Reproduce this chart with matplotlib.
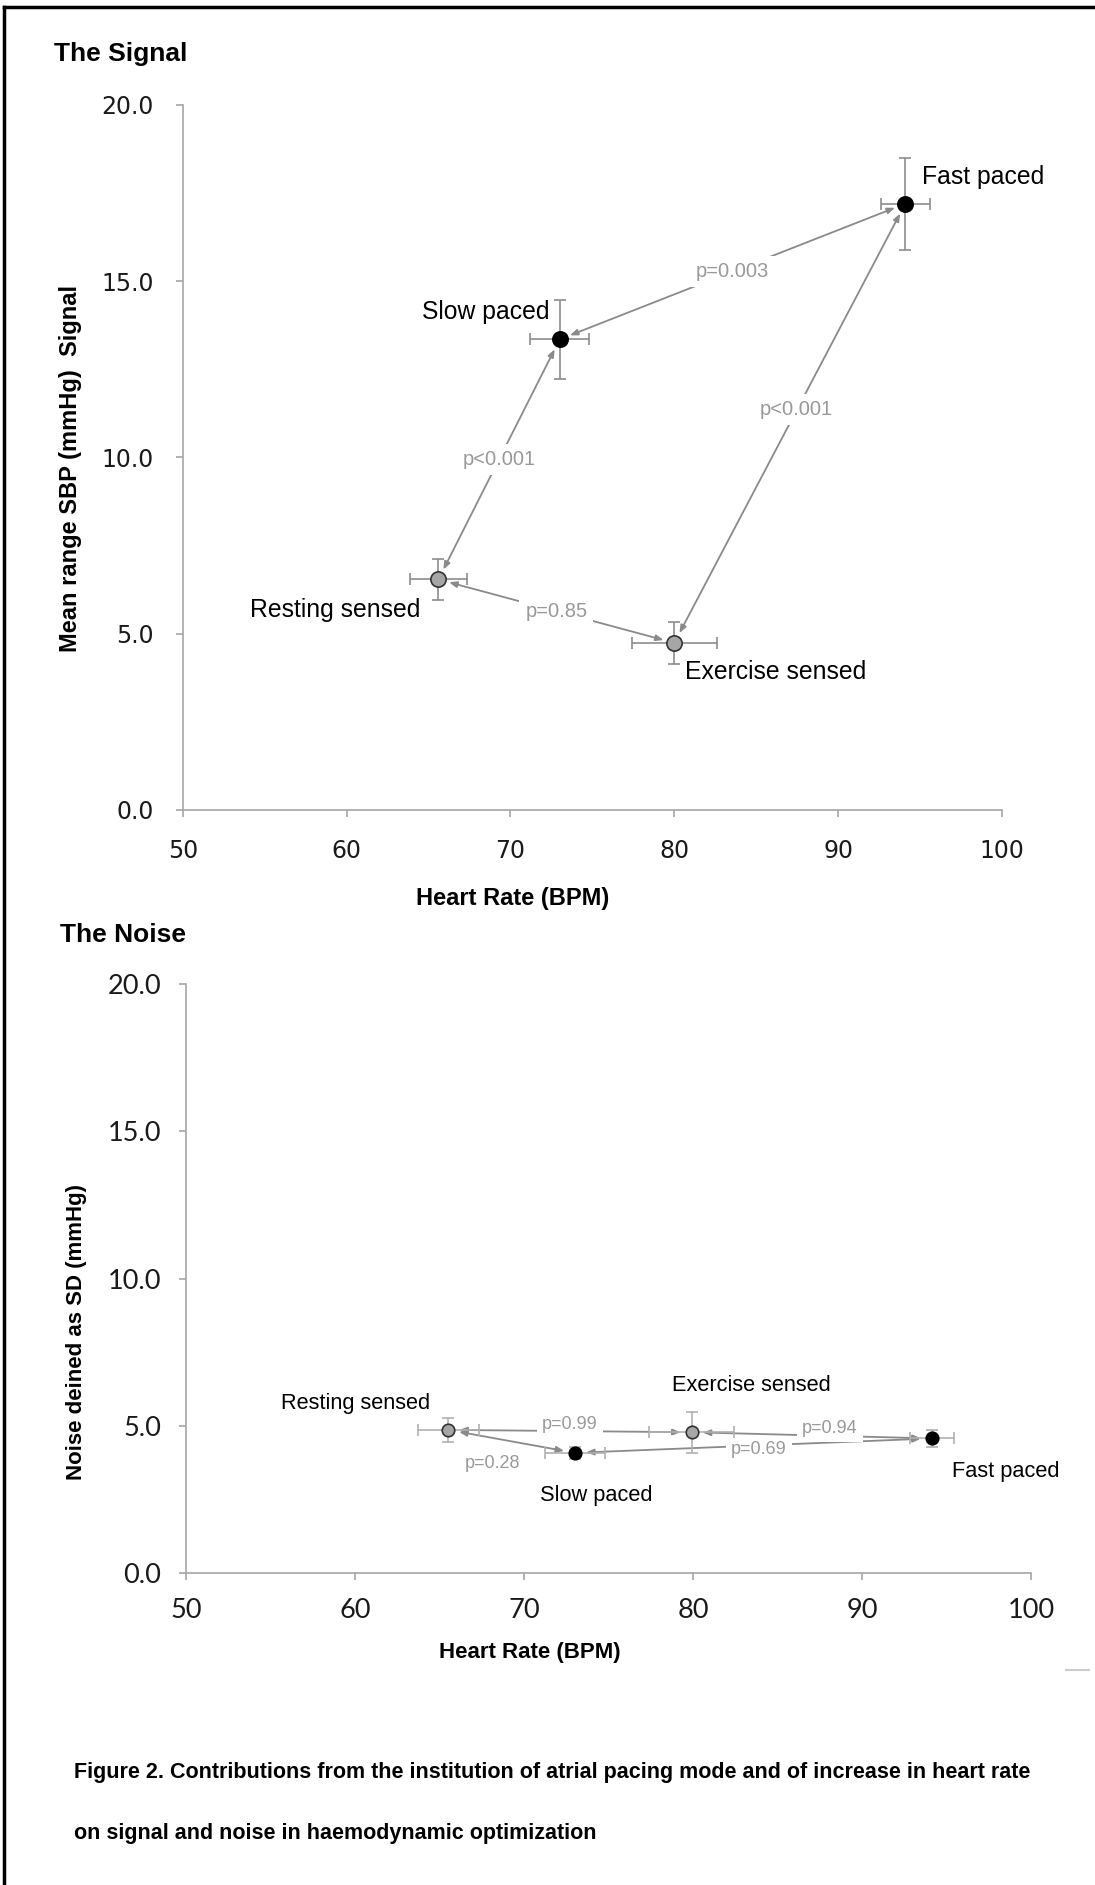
import numpy as np
import matplotlib.pyplot as plt
from matplotlib.lines import Line2D

# conditions, in the same order for both panels
conditions = ["Resting sensed", "Exercise sensed", "Slow paced", "Fast paced"]
paced = [False, False, True, True]

# The Signal: mean range SBP vs heart rate
hr_signal = [65.6, 80.0, 73.0, 94.1]
hr_signal_err = [1.75, 2.6, 1.8, 1.5]
sbp_signal = [6.54, 4.74, 13.35, 17.2]
sbp_signal_err = [0.58, 0.6, 1.12, 1.3]
signal_pairs = [(2, 3), (0, 2), (1, 3), (0, 1)]
signal_pvals = ["p=0.003", "p<0.001", "p<0.001", "p=0.85"]

# The Noise: SD vs heart rate
hr_noise = [65.5, 79.9, 73.0, 94.1]
hr_noise_err = [1.8, 2.5, 1.8, 1.3]
sd_noise = [4.86, 4.78, 4.08, 4.57]
sd_noise_err = [0.4, 0.7, 0.2, 0.3]
noise_pairs = [(0, 1), (0, 2), (1, 3), (2, 3)]
noise_pvals = ["p=0.99", "p=0.28", "p=0.94", "p=0.69"]

x_ticks = [50, 60, 70, 80, 90, 100]
y_ticks = [0, 5, 10, 15, 20]

NARROW = ["Liberation Sans Narrow", "Liberation Sans", "DejaVu Sans"]
ARROW_GREY = "#8a8a8a"
ERR_GREY = "#8c8c8c"
SPINE_GREY = "#a6a6a6"

fig = plt.figure(figsize=(10.95, 18.85), dpi=100)
ax1 = fig.add_axes([0.167, 0.5703, 0.748, 0.374])
ax2 = fig.add_axes([0.170, 0.1655, 0.772, 0.3125])


def style_axes(ax, tick_font, tick_size, pad):
    ax.set_xlim(50, 100)
    ax.set_ylim(0, 20)
    ax.set_xticks(x_ticks)
    ax.set_yticks(y_ticks)
    ax.set_yticklabels([f"{v:.1f}" for v in y_ticks])
    for s in ["top", "right"]:
        ax.spines[s].set_visible(False)
    for s in ["left", "bottom"]:
        ax.spines[s].set_color(SPINE_GREY)
        ax.spines[s].set_linewidth(1.2)
    ax.tick_params(direction="out", length=5, width=1.2, color=SPINE_GREY,
                   labelsize=tick_size, pad=pad, labelcolor="#1a1a1a")
    for lab in ax.get_xticklabels() + ax.get_yticklabels():
        lab.set_family(tick_font)


def draw_points(ax, xs, xerr, ys, yerr, ms, ecol):
    for i in range(len(conditions)):
        face = "black" if paced[i] else "#a6a6a6"
        ax.errorbar(xs[i], ys[i], xerr=xerr[i], yerr=yerr[i], fmt="o",
                    ms=ms, mfc=face, mec="#333333" if not paced[i] else "black",
                    mew=1.2, ecolor=ecol, elinewidth=1.2, capsize=4,
                    capthick=1.2, zorder=3)


def draw_links(ax, xs, ys, pairs, pvals, fsize, offsets):
    for (a, b), p, off in zip(pairs, pvals, offsets):
        ax.annotate("", xy=(xs[a], ys[a]), xytext=(xs[b], ys[b]),
                    arrowprops=dict(arrowstyle="<|-|>,head_length=0.45,head_width=0.18",
                                    color=ARROW_GREY, lw=1.3,
                                    shrinkA=8, shrinkB=8), zorder=2)
        mx = (xs[a] + xs[b]) / 2
        my = (ys[a] + ys[b]) / 2
        ax.annotate(p, xy=(mx, my), xytext=off, textcoords="offset points",
                    ha="center", va="center", fontsize=fsize, color="#999999",
                    family=["Liberation Sans", "DejaVu Sans"],
                    bbox=dict(boxstyle="square,pad=0.3", fc="white", ec="none"),
                    zorder=2.5)


def draw_names(ax, xs, ys, placements, fsize, weight):
    for i, name in enumerate(conditions):
        dx, dy, ha = placements[i]
        ax.annotate(name, xy=(xs[i], ys[i]), xytext=(dx, dy),
                    textcoords="offset points", ha=ha, va="center",
                    fontsize=fsize, family=NARROW, color="black",
                    fontweight=weight, zorder=4)


# --- The Signal ---
style_axes(ax1, "DejaVu Sans", 17, 16)
draw_links(ax1, hr_signal, sbp_signal, signal_pairs, signal_pvals, 14.5,
           [(0, 0), (0, 0), (5, 10), (0, 0)])
draw_points(ax1, hr_signal, hr_signal_err, sbp_signal, sbp_signal_err, 11, ERR_GREY)
draw_names(ax1, hr_signal, sbp_signal,
           [(-13, -22, "right"), (8, -21, "left"),
            (-7, 20, "right"), (12, 19, "left")], 17.8, "normal")
ax1.set_xlabel("Heart Rate (BPM)", fontsize=17, fontweight="bold", family=NARROW)
ax1.set_ylabel("Mean range SBP (mmHg)  Signal", fontsize=17,
               fontweight="bold", family=NARROW)
ax1.xaxis.set_label_coords(0.403, -0.109)
ax1.yaxis.set_label_coords(-0.123, 0.484)

# --- The Noise ---
style_axes(ax2, ["Lato", "DejaVu Sans"], 19.5, 13)
draw_links(ax2, hr_noise, sd_noise, noise_pairs, noise_pvals, 13,
           [(0, 5), (-14, -16), (13, 5), (4, -3)])
draw_points(ax2, hr_noise, hr_noise_err, sd_noise, sd_noise_err, 9, "#b0b0b0")
draw_names(ax2, hr_noise, sd_noise,
           [(-13, 19, "right"), (43, 34, "center"),
            (15, -31, "center"), (53, -24, "center")], 15.7, "normal")
ax2.set_xlabel("Heart Rate (BPM)", fontsize=16, fontweight="bold", family=NARROW)
ax2.set_ylabel("Noise deined as SD (mmHg)", fontsize=16,
               fontweight="bold", family=NARROW)
ax2.xaxis.set_label_coords(0.407, -0.117)
ax2.yaxis.set_label_coords(-0.117, 0.41)

# panel titles and caption
fig.text(54 / 1095, 1 - 54 / 1885, "The Signal", fontsize=19, fontweight="bold",
         family=NARROW, va="center")
fig.text(60 / 1095, 1 - 935 / 1885, "The Noise", fontsize=19, fontweight="bold",
         family=NARROW, va="center")
fig.text(74 / 1095, 1 - 1772 / 1885,
         "Figure 2. Contributions from the institution of atrial pacing mode "
         "and of increase in heart rate",
         fontsize=15.5, fontweight="bold", family=NARROW, va="center")
fig.text(74 / 1095, 1 - 1833 / 1885,
         "on signal and noise in haemodynamic optimization",
         fontsize=15.5, fontweight="bold", family=NARROW, va="center")

# page frame (left and top only) and a stray grey dash
fig.add_artist(Line2D([4 / 1095, 4 / 1095], [0, 1 - 7 / 1885],
                      transform=fig.transFigure, color="black", lw=2.5))
fig.add_artist(Line2D([4 / 1095, 1], [1 - 7 / 1885, 1 - 7 / 1885],
                      transform=fig.transFigure, color="black", lw=2.5))
fig.add_artist(Line2D([1066 / 1095, 1089 / 1095], [1 - 1670 / 1885, 1 - 1670 / 1885],
                      transform=fig.transFigure, color="#cccccc", lw=1.5))

fig.savefig("out.png", dpi=100)
